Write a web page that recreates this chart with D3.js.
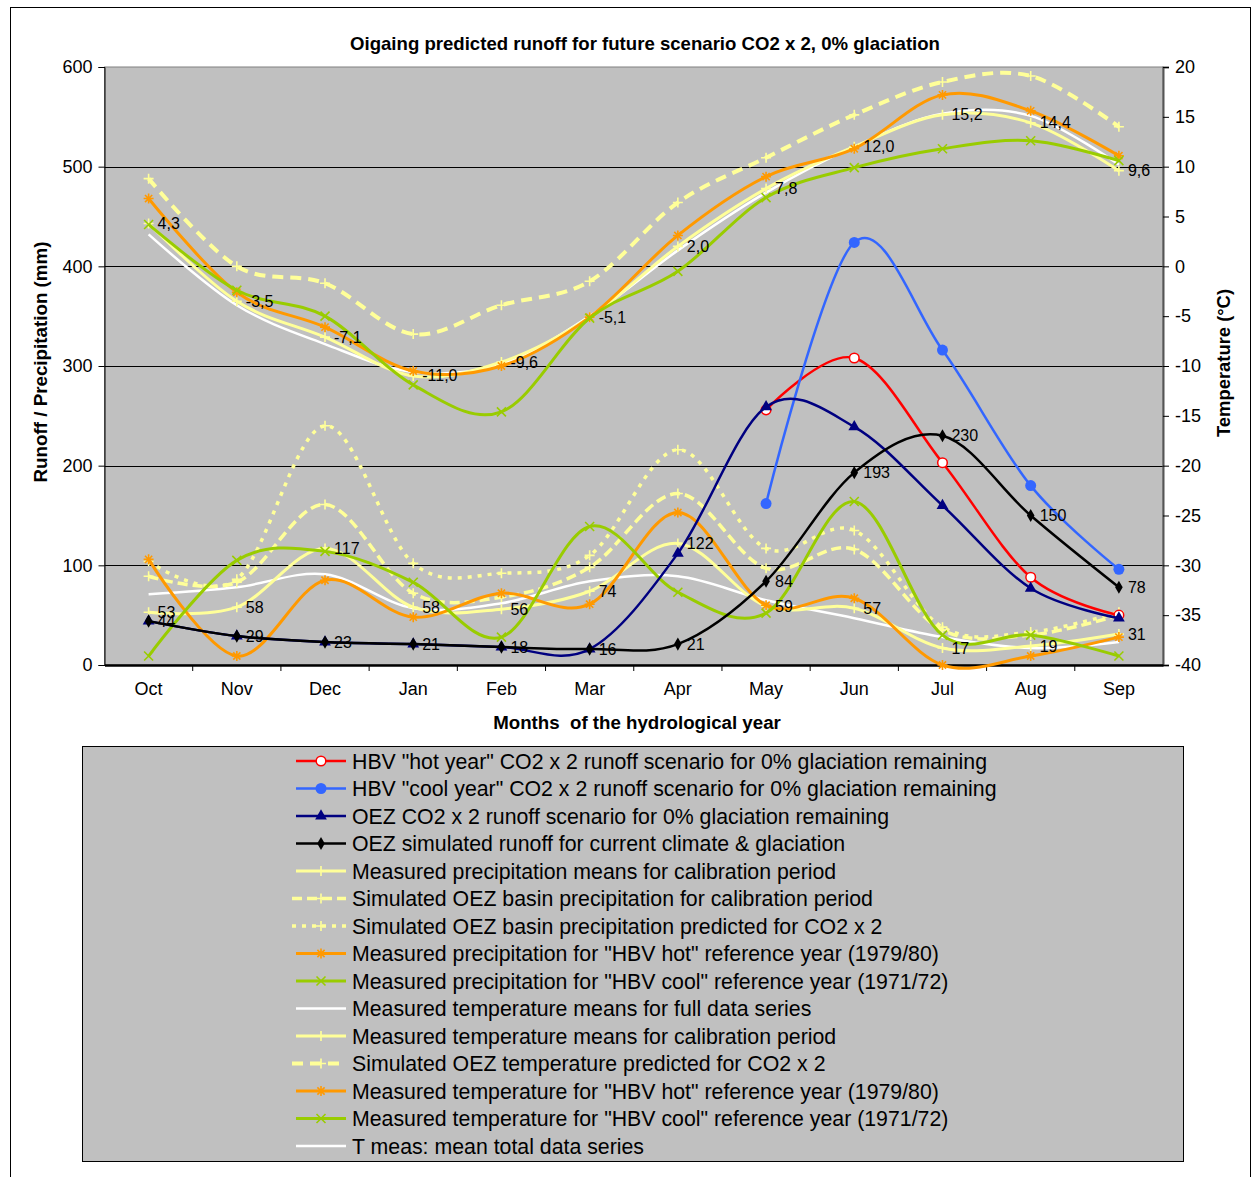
<!DOCTYPE html>
<html>
<head>
<meta charset="utf-8">
<script src="https://cdn.jsdelivr.net/npm/d3@7/dist/d3.min.js"></script>
<style>
  html, body { margin: 0; padding: 0; background: #ffffff; }
  svg { display: block; font-family: "Liberation Sans", Arial, sans-serif; }
</style>
</head>
<body>
<svg id="chart" width="1257" height="1177"></svg>
<script>
// Months of the hydrological year
const months = ["Oct", "Nov", "Dec", "Jan", "Feb", "Mar", "Apr", "May", "Jun", "Jul", "Aug", "Sep"];

// Runoff series (mm)
const hbvHotRunoff   = [null, null, null, null, null, null, null, 256, 308, 203, 88, 50];
const hbvCoolRunoff  = [null, null, null, null, null, null, null, 162, 424, 316, 180, 96];
const oezCO2Runoff   = [44, 29, 23, 21, 18, 16, 112, 259, 239, 160, 77, 47];
const oezCurrent     = [44, 29, 23, 21, 18, 16, 21, 84, 193, 230, 150, 78];

// Precipitation series (mm)
const precCalibMeans = [53, 58, 117, 58, 56, 74, 122, 59, 57, 17, 19, 31];
const precSimCalib   = [89, 83, 161, 72, 68, 98, 172, 97, 116, 35, 30, 50];
const precSimCO2     = [104, 86, 240, 102, 92, 110, 216, 117, 135, 38, 33, 53];
const precHot        = [106, 9, 85, 48, 72, 61, 153, 60, 67, 0, 9, 28];
const precCool       = [9, 105, 114, 83, 28, 139, 73, 52, 164, 30, 30, 9];
const meansFullSeries = [71, 78, 91, 57, 62, 84, 89, 65, 47, 28, 17, 23];

// Temperature series (°C)
const tempCalibMeans = [4.3, -3.5, -7.1, -11.0, -9.6, -5.1, 2.0, 7.8, 12.0, 15.2, 14.4, 9.6];
const tempSimCO2     = [8.8, 0.0, -1.7, -6.8, -3.9, -1.5, 6.4, 10.9, 15.2, 18.5, 19.1, 14.0];
const tempHot        = [6.8, -2.6, -6.1, -10.5, -10.0, -5.1, 3.1, 9.0, 11.8, 17.2, 15.6, 11.1];
const tempCool       = [4.2, -2.4, -5.0, -11.9, -14.6, -5.2, -0.5, 6.9, 9.9, 11.8, 12.6, 10.6];
const tempMeanTotal  = [3.2, -3.9, -7.8, -10.6, -9.8, -5.0, 1.6, 7.4, 12.0, 15.3, 15.1, 10.2];

// Axis ticks
const leftTicks  = [0, 100, 200, 300, 400, 500, 600];
const rightTicks = [-40, -35, -30, -25, -20, -15, -10, -5, 0, 5, 10, 15, 20];

const svg = d3.select("#chart");
const plot = { left: 104.5, right: 1163, top: 67, bottom: 665 };

const x = d3.scaleBand().domain(months).range([plot.left, plot.right]);
const cx = m => x(m) + x.bandwidth() / 2;
const yL = d3.scaleLinear().domain([0, 600]).range([plot.bottom, plot.top]);
const yR = d3.scaleLinear().domain([-40, 20]).range([plot.bottom, plot.top]);

// Outer chart frame
svg.append("rect").attr("x", 10.5).attr("y", 7.5).attr("width", 1240).attr("height", 1180)
  .attr("fill", "#fff").attr("stroke", "#000").attr("stroke-width", 1);

// Plot area
svg.append("rect").attr("x", plot.left).attr("y", plot.top)
  .attr("width", plot.right - plot.left).attr("height", plot.bottom - plot.top)
  .attr("fill", "#c0c0c0").attr("stroke", "#808080").attr("stroke-width", 1);

// Gridlines
svg.append("g").selectAll("line").data(leftTicks.filter(v => v > 0 && v < 600)).join("line")
  .attr("x1", plot.left).attr("x2", plot.right)
  .attr("y1", d => Math.round(yL(d)) + 0.5).attr("y2", d => Math.round(yL(d)) + 0.5)
  .attr("stroke", "#000").attr("stroke-width", 1);

// Axes
const axL = svg.append("g").attr("transform", `translate(${plot.left},0)`)
  .call(d3.axisLeft(yL).tickValues(leftTicks).tickSize(6).tickPadding(6));
const axR = svg.append("g").attr("transform", `translate(${plot.right},0)`)
  .call(d3.axisRight(yR).tickValues(rightTicks).tickSize(6).tickPadding(6).tickFormat(d => String(d)));
const axB = svg.append("g").attr("transform", `translate(0,${plot.bottom})`)
  .call(d3.axisBottom(x).tickSize(0).tickPadding(17));
[axL, axR, axB].forEach(a => {
  a.selectAll("text").attr("font-size", 18).attr("fill", "#000")
    .attr("font-family", "'Liberation Sans', Arial, sans-serif");
  a.selectAll("line").attr("stroke", "#000");
  a.select(".domain").attr("stroke", "#000");
});
axB.select(".domain").attr("stroke-width", 2.5);
axR.select(".domain").attr("stroke", "#555").attr("stroke-width", 2);
// category boundary ticks
svg.append("g").selectAll("line").data(months.slice(1)).join("line")
  .attr("x1", d => x(d)).attr("x2", d => x(d))
  .attr("y1", plot.bottom).attr("y2", plot.bottom + 6)
  .attr("stroke", "#000");

// Marker shapes
const markerPaths = {
  plus: "M-5,0H5M0,-5V5",
  star: "M-5,0H5M0,-5V5M-3.6,-3.6L3.6,3.6M-3.6,3.6L3.6,-3.6",
  cross: "M-4.5,-4.5L4.5,4.5M-4.5,4.5L4.5,-4.5",
  triangle: d3.symbol(d3.symbolTriangle, 60)(),
  diamond: d3.symbol(d3.symbolDiamond, 50)()
};

function drawMarker(g, type, color, px, py) {
  if (type === "openCircle") {
    g.append("circle").attr("cx", px).attr("cy", py).attr("r", 4.8)
      .attr("fill", "#fff").attr("stroke", color).attr("stroke-width", 1.5);
  } else if (type === "dot") {
    g.append("circle").attr("cx", px).attr("cy", py).attr("r", 5.5).attr("fill", color);
  } else if (type === "triangle" || type === "diamond") {
    g.append("path").attr("d", markerPaths[type]).attr("transform", `translate(${px},${py})`)
      .attr("fill", color);
  } else if (type) {
    g.append("path").attr("d", markerPaths[type]).attr("transform", `translate(${px},${py})`)
      .attr("fill", "none").attr("stroke", color).attr("stroke-width", 1.6);
  }
}

const YEL = "#ffff99", ORA = "#ff9900", GRN = "#99cc00";

// Series definitions (legend order)
const series = [
  { name: "HBV \"hot year\" CO2 x 2 runoff scenario for 0% glaciation remaining", values: hbvHotRunoff, scale: yL, color: "#ff0000", width: 2.5, marker: "openCircle" },
  { name: "HBV \"cool year\" CO2 x 2 runoff scenario for 0% glaciation remaining", values: hbvCoolRunoff, scale: yL, color: "#3366ff", width: 2.5, marker: "dot" },
  { name: "OEZ CO2 x 2 runoff scenario for 0% glaciation remaining", values: oezCO2Runoff, scale: yL, color: "#000080", width: 2.5, marker: "triangle" },
  { name: "OEZ simulated runoff for current climate & glaciation", values: oezCurrent, scale: yL, color: "#000000", width: 2.5, marker: "diamond", labels: d => String(d) },
  { name: "Measured precipitation means for calibration period", values: precCalibMeans, scale: yL, color: YEL, width: 3, marker: "plus", labels: d => String(d) },
  { name: "Simulated OEZ basin precipitation for calibration period", values: precSimCalib, scale: yL, color: YEL, width: 3.5, dash: "10,5", marker: "plus" },
  { name: "Simulated OEZ basin precipitation predicted for CO2 x 2", values: precSimCO2, scale: yL, color: YEL, width: 3.5, dash: "4,6", marker: "plus" },
  { name: "Measured precipitation for \"HBV hot\" reference year (1979/80)", values: precHot, scale: yL, color: ORA, width: 3, marker: "star" },
  { name: "Measured precipitation for \"HBV cool\" reference year (1971/72)", values: precCool, scale: yL, color: GRN, width: 3, marker: "cross" },
  { name: "Measured temperature means for full data series", values: meansFullSeries, scale: yL, color: "#ffffff", width: 2.5, marker: null },
  { name: "Measured temperature means for calibration period", values: tempCalibMeans, scale: yR, color: YEL, width: 3, marker: "plus", labels: d => d.toFixed(1).replace(".", ",") },
  { name: "Simulated OEZ temperature predicted for CO2 x 2", values: tempSimCO2, scale: yR, color: YEL, width: 4, dash: "11,7", marker: "plus" },
  { name: "Measured temperature for \"HBV hot\" reference year (1979/80)", values: tempHot, scale: yR, color: ORA, width: 3, marker: "star" },
  { name: "Measured temperature for \"HBV cool\" reference year (1971/72)", values: tempCool, scale: yR, color: GRN, width: 3, marker: "cross" },
  { name: "T meas: mean total data series", values: tempMeanTotal, scale: yR, color: "#ffffff", width: 2.5, marker: null }
];

// Draw order: precipitation and temperature underneath, runoff on top
const drawOrder = [9, 4, 5, 6, 7, 8, 14, 10, 11, 12, 13, 0, 1, 2, 3];
const linesG = svg.append("g");
drawOrder.forEach(i => {
  const s = series[i];
  const pts = s.values.map((v, k) => ({ m: months[k], v })).filter(p => p.v !== null);
  const line = d3.line().x(p => cx(p.m)).y(p => s.scale(p.v)).curve(d3.curveCardinal.tension(0));
  const g = linesG.append("g");
  g.append("path").attr("d", line(pts)).attr("fill", "none")
    .attr("stroke", s.color).attr("stroke-width", s.width)
    .attr("stroke-dasharray", s.dash || null)
    .attr("stroke-linejoin", "round");
  pts.forEach(p => drawMarker(g, s.marker, s.color, cx(p.m), s.scale(p.v)));
});

// Data labels
const labelG = svg.append("g").attr("font-size", 16).attr("fill", "#000");
series.filter(s => s.labels).forEach(s => {
  s.values.forEach((v, k) => {
    if (v === null) return;
    labelG.append("text").attr("x", cx(months[k]) + 9).attr("y", s.scale(v) + 5.5)
      .text(s.labels(v));
  });
});

// Title and axis titles
svg.append("text").attr("x", 645).attr("y", 50).attr("text-anchor", "middle")
  .attr("font-size", 18.6).attr("font-weight", "bold")
  .text("Oigaing predicted runoff for future scenario CO2 x 2, 0% glaciation");
svg.append("text").attr("transform", "translate(47,362) rotate(-90)").attr("text-anchor", "middle")
  .attr("font-size", 18.8).attr("font-weight", "bold").text("Runoff / Precipitation (mm)");
svg.append("text").attr("transform", "translate(1230,363) rotate(-90)").attr("text-anchor", "middle")
  .attr("font-size", 18.4).attr("font-weight", "bold").text("Temperature (°C)");
svg.append("text").attr("x", 637).attr("y", 729).attr("text-anchor", "middle")
  .attr("font-size", 18.7).attr("font-weight", "bold").style("white-space", "pre")
  .text("Months  of the hydrological year");

// Legend
const legend = svg.append("g");
legend.append("rect").attr("x", 82.5).attr("y", 746.5).attr("width", 1101).attr("height", 415)
  .attr("fill", "#c0c0c0").attr("stroke", "#000").attr("stroke-width", 1);
series.forEach((s, i) => {
  const ly = 761 + i * 27.5;
  const g = legend.append("g");
  g.append("line").attr("x1", s.dash ? 292 : 296).attr("x2", 346).attr("y1", ly).attr("y2", ly)
    .attr("stroke", s.color).attr("stroke-width", s.width)
    .attr("stroke-dasharray", s.dash || null);
  drawMarker(g, s.marker, s.color, 321, ly);
  g.append("text").attr("x", 352).attr("y", ly + 7.5).attr("font-size", 21.3).attr("fill", "#000")
    .text(s.name);
});
</script>
</body>
</html>
